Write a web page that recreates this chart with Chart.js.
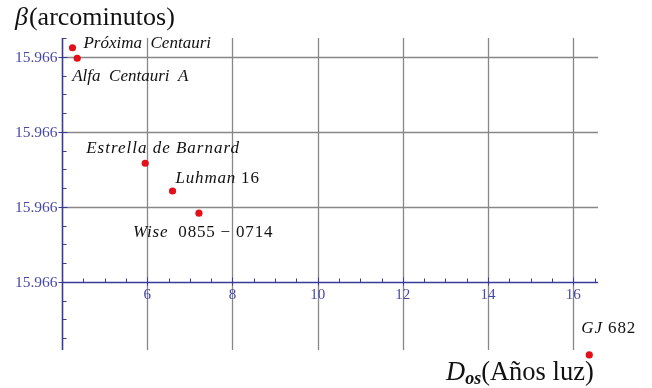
<!DOCTYPE html>
<html>
<head>
<meta charset="utf-8">
<script src="https://cdn.jsdelivr.net/npm/chart.js@4/dist/chart.umd.min.js"></script>
<style>
  html, body { margin: 0; padding: 0; background: #ffffff; }
  #wrap { width: 652px; height: 388px; position: relative; }
</style>
</head>
<body>
<div id="wrap"><canvas id="c" width="652" height="388"></canvas></div>
<script>
// ---- data ----
const starNames = ["Próxima Centauri", "Alfa Centauri A", "Estrella de Barnard", "Luhman 16", "Wise 0855 − 0714", "GJ 682"];
const distances = [4.246, 4.357, 5.953, 6.594, 7.214, 16.375];           // años luz
const betas     = [15.9660624, 15.9660596, 15.9660316, 15.9660242, 15.9660183, 15.9659805]; // arcominutos
const xTickValues = [6, 8, 10, 12, 14, 16];
const xTickLabels = ["6", "8", "10", "12", "14", "16"];
const yTickValues = [15.96600, 15.96602, 15.96604, 15.96606];
const yTickLabels = ["15.966", "15.966", "15.966", "15.966"];
const yTitle = ["β", "(arcominutos)"];
const xTitle = ["D", "os", "(Años luz)"];

// ---- axis ranges ----
const X_MIN = 4, X_MAX = 16.58;
const Y_FRAME_MIN = 15.9659818, Y_MAX = 15.966065, Y_MIN = 15.9659786;
const X_AXIS_AT = 15.96600, Y_AXIS_AT = 4;
const X_MINOR = 0.5, Y_MINOR = 0.000005;

// ---- styles ----
const AXIS_COLOR = '#3a3a98';
const TICK_LABEL_COLOR = '#4848a8';
const GRID_COLOR = '#878787';
const SERIF = '"Liberation Serif", "DejaVu Serif", serif';
// label rich-text pieces (italic/upright) and placement relative to point
const labelStyle = [
  { parts: [["Próxima", "i"], ["  Centauri", "i"]], dx: 11, dy: -4, ls: 0 },
  { parts: [["Alfa  Centauri  A", "i"]], dx: -5, dy: 18, ls: 0 },
  { parts: [["Estrella de Barnard", "i"]], dx: -59, dy: -15, ls: 1 },
  { parts: [["Luhman", "i"], [" 16", "n"]], dx: 3, dy: -12, ls: 0.8 },
  { parts: [["Wise", "i"], ["  0855 − 0714", "n"]], dx: -66, dy: 19, ls: 0.8 },
  { parts: [["GJ", "i"], [" 682", "n"]], dx: -8, dy: -26, ls: 0.9 }
];

function drawParts(ctx, parts, x, y, size, ls) {
  let cx = x;
  ctx.textBaseline = 'middle';
  ctx.textAlign = 'left';
  ctx.letterSpacing = ls + 'px';
  for (const [t, s] of parts) {
    ctx.font = (s === 'i' ? 'italic ' : '') + size + 'px ' + SERIF;
    ctx.fillText(t, cx, y);
    cx += ctx.measureText(t).width;
  }
  ctx.letterSpacing = '0px';
}

const decorPlugin = {
  id: 'decor',
  beforeDatasetsDraw(chart) {
    const ctx = chart.ctx;
    const xs = chart.scales.x, ys = chart.scales.y;
    const left = xs.getPixelForValue(X_MIN), right = xs.getPixelForValue(X_MAX);
    const top = ys.getPixelForValue(Y_MAX), bottom = ys.getPixelForValue(Y_FRAME_MIN);
    ctx.save();
    // grid lines
    ctx.strokeStyle = GRID_COLOR;
    ctx.lineWidth = 1.3;
    for (const v of xTickValues) {
      const px = Math.round(xs.getPixelForValue(v)) + 0.5;
      ctx.beginPath(); ctx.moveTo(px, top); ctx.lineTo(px, bottom); ctx.stroke();
    }
    for (const v of yTickValues) {
      if (v === X_AXIS_AT) continue;
      const py = Math.round(ys.getPixelForValue(v)) + 0.5;
      ctx.beginPath(); ctx.moveTo(left, py); ctx.lineTo(right, py); ctx.stroke();
    }
    // axes
    const ax = Math.round(xs.getPixelForValue(Y_AXIS_AT)) + 0.5;
    const ay = Math.round(ys.getPixelForValue(X_AXIS_AT)) + 0.5;
    ctx.strokeStyle = AXIS_COLOR;
    ctx.lineWidth = 1.6;
    ctx.beginPath(); ctx.moveTo(ax, top); ctx.lineTo(ax, bottom); ctx.stroke();
    ctx.beginPath(); ctx.moveTo(ax, ay); ctx.lineTo(right, ay); ctx.stroke();
    // x minor / major ticks
    ctx.lineWidth = 1;
    for (let v = Y_AXIS_AT + X_MINOR; v <= X_MAX + 1e-9; v += X_MINOR) {
      const px = Math.round(xs.getPixelForValue(v)) + 0.5;
      const major = xTickValues.some(t => Math.abs(t - v) < 1e-6);
      ctx.beginPath();
      if (major) { ctx.moveTo(px, ay - 5); ctx.lineTo(px, ay + 3); }
      else { ctx.moveTo(px, ay - 4); ctx.lineTo(px, ay); }
      ctx.stroke();
    }
    // y minor / major ticks
    for (let k = -20; k <= 20; k++) {
      const v = X_AXIS_AT + k * Y_MINOR;
      if (v < Y_FRAME_MIN - 1e-9 || v > Y_MAX + 1e-9) continue;
      const py = Math.round(ys.getPixelForValue(v)) + 0.5;
      const major = yTickValues.some(t => Math.abs(t - v) < 1e-9);
      ctx.beginPath();
      if (major) { ctx.moveTo(ax - 4, py); ctx.lineTo(ax + 5, py); }
      else { ctx.moveTo(ax, py); ctx.lineTo(ax + 4, py); }
      ctx.stroke();
    }
    // tick labels
    ctx.fillStyle = TICK_LABEL_COLOR;
    ctx.font = '15.5px ' + SERIF;
    ctx.textAlign = 'right'; ctx.textBaseline = 'middle';
    yTickValues.forEach((v, i) => {
      ctx.fillText(yTickLabels[i], ax - 5, ys.getPixelForValue(v) + 1);
    });
    ctx.font = '15px ' + SERIF;
    ctx.textAlign = 'center'; ctx.textBaseline = 'middle';
    xTickValues.forEach((v, i) => {
      ctx.fillText(xTickLabels[i], xs.getPixelForValue(v), ay + 13);
    });
    ctx.restore();
  },
  afterDatasetsDraw(chart) {
    const ctx = chart.ctx;
    const xs = chart.scales.x, ys = chart.scales.y;
    ctx.save();
    ctx.fillStyle = '#111111';
    starNames.forEach((n, i) => {
      const st = labelStyle[i];
      const px = xs.getPixelForValue(distances[i]);
      const py = ys.getPixelForValue(betas[i]);
      drawParts(ctx, st.parts, px + st.dx, py + st.dy, 17, st.ls);
    });
    // titles
    ctx.textBaseline = 'alphabetic'; ctx.textAlign = 'left';
    ctx.font = 'italic 26px ' + SERIF;
    ctx.fillText(yTitle[0], 15, 25);
    let w = ctx.measureText(yTitle[0]).width;
    ctx.font = '26px ' + SERIF;
    ctx.fillText(yTitle[1], 15 + w + 1, 25);
    // x title
    let x0 = 446, base = 380;
    ctx.font = 'italic 26.5px ' + SERIF;
    ctx.fillText(xTitle[0], x0, base);
    x0 += ctx.measureText(xTitle[0]).width;
    ctx.font = 'italic bold 18px ' + SERIF;
    ctx.fillText(xTitle[1], x0, base + 4);
    x0 += ctx.measureText(xTitle[1]).width;
    ctx.font = '26.5px ' + SERIF;
    ctx.fillText(xTitle[2], x0, base);
    ctx.restore();
  }
};

new Chart(document.getElementById('c'), {
  type: 'scatter',
  data: {
    datasets: [{
      data: distances.map((d, i) => ({ x: d, y: betas[i] })),
      backgroundColor: '#e3101a',
      borderWidth: 0,
      pointRadius: 3.6,
      pointHoverRadius: 3.6,
      clip: false
    }]
  },
  options: {
    responsive: false,
    animation: false,
    devicePixelRatio: 1,
    layout: { padding: { left: 62, right: 54, top: 38, bottom: 26 } },
    plugins: { legend: { display: false }, tooltip: { enabled: false } },
    scales: {
      x: { type: 'linear', min: X_MIN, max: X_MAX, display: false },
      y: { type: 'linear', min: Y_MIN, max: Y_MAX, display: false }
    }
  },
  plugins: [decorPlugin]
});
</script>
</body>
</html>
